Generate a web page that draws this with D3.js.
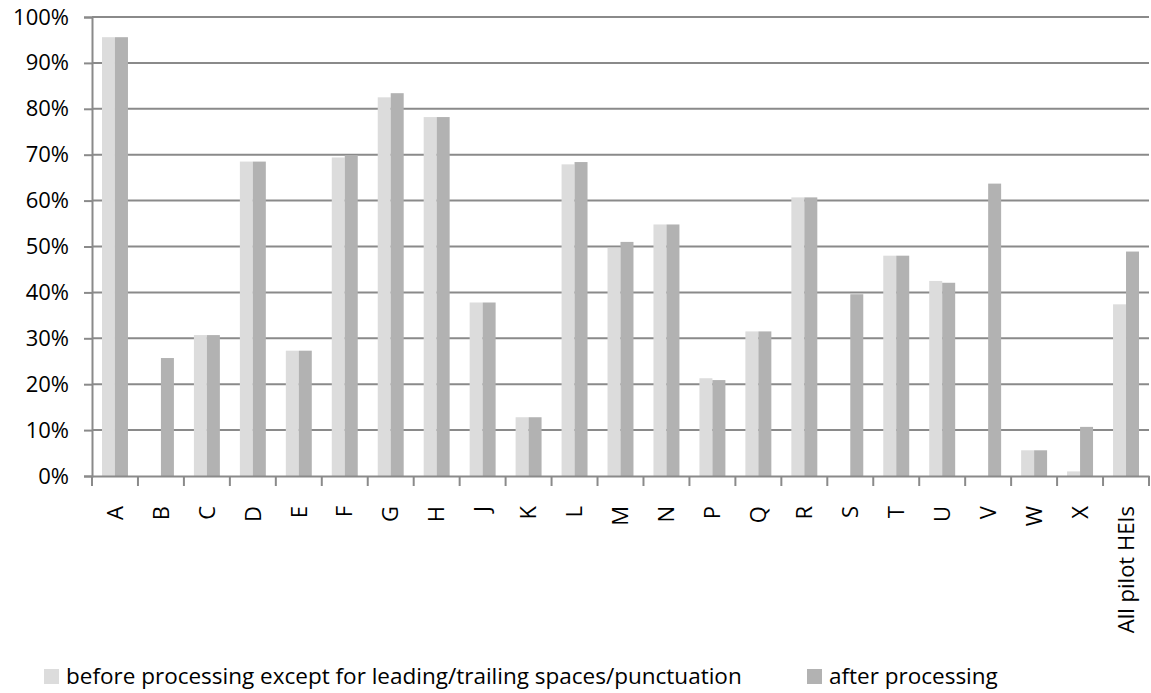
<!DOCTYPE html>
<html>
<head>
<meta charset="utf-8">
<script src="https://cdn.jsdelivr.net/npm/d3@7"></script>
<style>
  body { margin: 0; background: #fff; }
  text { font-family: "Open Sans", Lato, sans-serif; fill: #000; }
</style>
</head>
<body>
<div id="chart"></div>
<script>
// categories and values (percent)
const categories = ["A", "B", "C", "D", "E", "F", "G", "H", "J", "K", "L", "M", "N", "P", "Q", "R", "S", "T", "U", "V", "W", "X", "All pilot HEIs"]
const beforeValues = [95.6, 0, 30.7, 68.5, 27.3, 69.4, 82.5, 78.2, 37.8, 12.8, 67.9, 49.7, 54.8, 21.3, 31.5, 60.7, 0, 48.0, 42.5, 0, 5.6, 1.0, 37.4]
const afterValues = [95.6, 25.7, 30.7, 68.5, 27.3, 69.9, 83.4, 78.2, 37.8, 12.8, 68.4, 51.0, 54.8, 20.9, 31.5, 60.7, 39.6, 48.0, 42.1, 63.7, 5.6, 10.7, 48.9]
const seriesNames = ["before processing except for leading/trailing spaces/punctuation", "after processing"]
const seriesColors = ["#dcdcdc", "#b2b2b2"]
const yTicks = [0, 10, 20, 30, 40, 50, 60, 70, 80, 90, 100]

let margin = { top: 17, right: 2, bottom: 217, left: 92 }
let width = 1151 - margin.left - margin.right
let height = 693 - margin.top - margin.bottom

const data = categories.map((c, i) => ({ cat: c, vals: [beforeValues[i], afterValues[i]] }))

let svg = d3.select("#chart")
    .append("svg")
    .attr("width", 1151)
    .attr("height", 693)

let g = svg.append("g")
    .attr("transform", "translate(" + margin.left + "," + margin.top + ")")

let x0 = d3.scaleBand()
    .domain(categories)
    .range([0, width])

let x1 = d3.scaleBand()
    .domain([0, 1])
    .range([0, x0.bandwidth()])
    .paddingOuter(0.77)

let y = d3.scaleLinear()
    .domain([0, 100])
    .range([height, 0])

// gridlines
g.selectAll(".grid")
    .data(yTicks.slice(1))
    .enter()
    .append("line")
    .attr("x1", 0)
    .attr("x2", width)
    .attr("y1", d => y(d))
    .attr("y2", d => y(d))
    .attr("stroke", "#8a8a8a")
    .attr("stroke-width", 2)

// bars
let groups = g.selectAll(".cat")
    .data(data)
    .enter()
    .append("g")
    .attr("transform", d => "translate(" + x0(d.cat) + ",0)")

groups.selectAll("rect")
    .data(d => d.vals.map((v, i) => ({ v, i })))
    .enter()
    .append("rect")
    .attr("x", d => x1(d.i))
    .attr("width", x1.bandwidth())
    .attr("y", d => y(d.v))
    .attr("height", d => height - y(d.v))
    .attr("fill", d => seriesColors[d.i])

// Y axis
let yAxis = g.append("g")
    .call(d3.axisLeft(y).tickValues(yTicks).tickSize(8).tickPadding(15).tickFormat(d => d + "%"))
yAxis.selectAll("line").attr("stroke", "#8a8a8a").attr("stroke-width", 2)
yAxis.select(".domain").attr("stroke", "#8a8a8a").attr("stroke-width", 2)
yAxis.selectAll("text").style("font-size", "22px")

// X axis
let xAxis = g.append("g")
    .attr("transform", "translate(0," + height + ")")
    .call(d3.axisBottom(x0).tickSize(0).tickPadding(0))
xAxis.select(".domain").attr("stroke", "#8a8a8a").attr("stroke-width", 2)
xAxis.selectAll(".tick text")
    .style("font-size", "22px")
    .attr("text-anchor", "end")
    .attr("transform", "translate(0,30) rotate(-90)")
    .attr("dy", "0.35em")
    .attr("y", 0)
    .attr("x", 0)

// boundary tick marks between categories
xAxis.selectAll(".bound")
    .data(categories.concat([null]))
    .enter()
    .append("line")
    .attr("x1", (d, i) => i * x0.step())
    .attr("x2", (d, i) => i * x0.step())
    .attr("y1", 0)
    .attr("y2", 10)
    .attr("stroke", "#8a8a8a")
    .attr("stroke-width", 2)

// legend
let legendX = [44, 807]
let legend = svg.selectAll(".legend")
    .data(seriesNames)
    .enter()
    .append("g")
    .attr("transform", (d, i) => "translate(" + legendX[i] + ",669)")

legend.append("rect")
    .attr("width", 15)
    .attr("height", 15)
    .attr("fill", (d, i) => seriesColors[i])

legend.append("text")
    .attr("x", 22)
    .attr("y", 15)
    .style("font-size", "22.5px")
    .text(d => d)
</script>
</body>
</html>
